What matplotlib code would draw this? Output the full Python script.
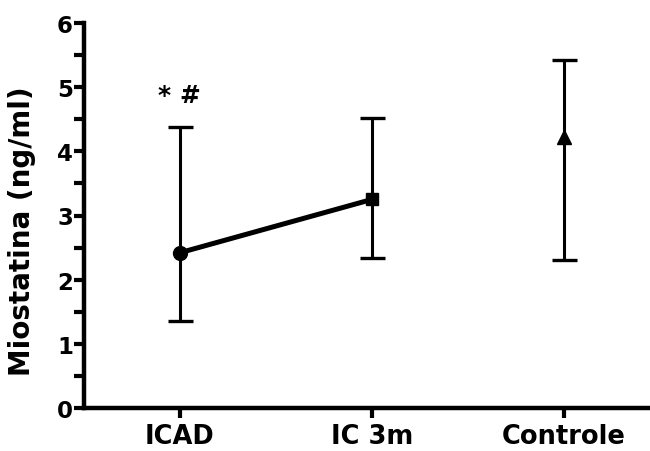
import matplotlib
matplotlib.use("Agg")
import matplotlib.pyplot as plt
from matplotlib.ticker import MultipleLocator

categories = ["ICAD", "IC 3m", "Controle"]
means = [2.42, 3.25, 4.23]
upper = [4.38, 4.52, 5.43]
lower = [1.36, 2.34, 2.30]
markers = ["o", "s", "^"]
annotation = "* #"
ylabel = "Miostatina (ng/ml)"

plt.rcParams['font.family'] = ['DejaVu Sans']
plt.rcParams['font.weight'] = 'bold'

fig = plt.figure(figsize=(6.5, 4.52), dpi=100)
ax = fig.add_axes([84/650, 43/452, 1 - 84/650, (409-24)/452])

x = list(range(len(categories)))
# connecting line between first two groups
ax.plot(x[:2], means[:2], color='black', lw=3.6, zorder=2, solid_capstyle='butt')
for xi, m, u, l, mk in zip(x, means, upper, lower, markers):
    ax.errorbar([xi], [m], yerr=[[m - l], [u - m]], fmt=mk, color='black',
                ecolor='black', elinewidth=2.2, capsize=9, capthick=2.4,
                markersize=10 if mk != 's' else 9, zorder=3)

ax.text(x[0], 4.88, annotation, ha='center', va='center', fontsize=18,
        fontweight='bold')

ax.set_xlim(-0.5, 2.45)
ax.set_ylim(0, 6)
ax.set_xticks(x)
ax.set_xticklabels(categories, fontsize=18.5, fontweight='bold')
ax.yaxis.set_major_locator(MultipleLocator(1))
ax.yaxis.set_minor_locator(MultipleLocator(0.5))
ax.tick_params(axis='y', which='both', length=7, width=3, labelsize=16.5, pad=1)
ax.tick_params(axis='x', length=7, width=3, pad=4)
for lab in ax.get_yticklabels():
    lab.set_fontweight('bold')
ax.set_ylabel(ylabel, fontsize=20, fontweight='bold')
ax.yaxis.set_label_coords((36 - 84) / (650 - 84), (409 - 231) / (409 - 24))

for s in ['top', 'right']:
    ax.spines[s].set_visible(False)
for s in ['left', 'bottom']:
    ax.spines[s].set_linewidth(3.2)
ax.spines['left'].set_capstyle('projecting')

fig.savefig("out.png", dpi=100)
